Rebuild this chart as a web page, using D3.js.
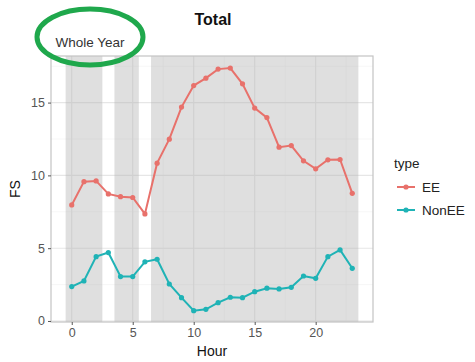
<!DOCTYPE html>
<html><head><meta charset="utf-8">
<script src="https://cdn.jsdelivr.net/npm/d3@7"></script>
<style>body{margin:0;background:#fff}svg{display:block;font-family:"Liberation Sans",Arial,sans-serif}</style>
</head><body><svg id="c" width="475" height="362"></svg>
<script>
const hours = d3.range(0,24);
const eeValues = [7.97,9.57,9.62,8.73,8.54,8.48,7.35,10.84,12.49,14.69,16.17,16.68,17.30,17.37,16.29,14.62,13.97,11.94,12.05,11.0,10.45,11.07,11.09,8.77];
const nonEEValues = [2.36,2.75,4.42,4.70,3.05,3.05,4.06,4.24,2.54,1.60,0.71,0.80,1.26,1.63,1.60,2.01,2.25,2.20,2.31,3.09,2.93,4.42,4.88,3.62];
const shadeStarts = [-0.5,3.5,6.5];
const shadeEnds = [2.5,5.5,23.5];
const xTicks = [0,5,10,15,20];
const yTicks = [0,5,10,15];
const seriesNames = ["EE","NonEE"];
const seriesColors = ["#e8716b","#1fb3b6"];

const svg = d3.select("#c");
const P = {l:51, r:373, t:56, b:322};
const x = d3.scaleLinear().domain([-1.7,24.7]).range([P.l,P.r]);
const y = d3.scaleLinear().domain([-0.07,18.2]).range([P.b,P.t]);

// grid
const g = svg.append("g");
const minorX = [-2.5,2.5,7.5,12.5,17.5,22.5].filter(v=>v>=-1.7&&v<=24.7);
const minorY = [2.5,7.5,12.5,17.5];
g.selectAll(".mx").data(minorX).join("line").attr("x1",d=>x(d)).attr("x2",d=>x(d)).attr("y1",P.t).attr("y2",P.b).attr("stroke","#f2f2f2").attr("stroke-width",0.6);
g.selectAll(".my").data(minorY).join("line").attr("y1",d=>y(d)).attr("y2",d=>y(d)).attr("x1",P.l).attr("x2",P.r).attr("stroke","#f2f2f2").attr("stroke-width",0.6);
g.selectAll(".gx").data(xTicks).join("line").attr("x1",d=>x(d)).attr("x2",d=>x(d)).attr("y1",P.t).attr("y2",P.b).attr("stroke","#e6e6e6").attr("stroke-width",1.1);
g.selectAll(".gy").data(yTicks).join("line").attr("y1",d=>y(d)).attr("y2",d=>y(d)).attr("x1",P.l).attr("x2",P.r).attr("stroke","#e6e6e6").attr("stroke-width",1.1);

// shading
svg.append("g").selectAll("rect").data(shadeStarts.map((s,i)=>[s,shadeEnds[i]])).join("rect")
  .attr("x",d=>x(d[0])).attr("width",d=>x(d[1])-x(d[0])).attr("y",P.t).attr("height",P.b-P.t)
  .attr("fill","#b0b0b0").attr("fill-opacity",0.4);

// panel border
svg.append("rect").attr("x",P.l).attr("y",P.t).attr("width",P.r-P.l).attr("height",P.b-P.t)
  .attr("fill","none").attr("stroke","#c4c4c4").attr("stroke-width",1.2);

// lines
const series = [eeValues, nonEEValues];
const line = d3.line().x((d,i)=>x(hours[i])).y(d=>y(d));
series.forEach((vals,k)=>{
  svg.append("path").attr("d",line(vals)).attr("fill","none").attr("stroke",seriesColors[k]).attr("stroke-width",2);
  svg.append("g").selectAll("circle").data(vals).join("circle").attr("cx",(d,i)=>x(hours[i])).attr("cy",d=>y(d)).attr("r",2.6).attr("fill",seriesColors[k]);
});

// axes
const xa = svg.append("g").attr("transform",`translate(0,${P.b})`).call(d3.axisBottom(x).tickValues(xTicks).tickSize(3).tickPadding(3));
const ya = svg.append("g").attr("transform",`translate(${P.l},0)`).call(d3.axisLeft(y).tickValues(yTicks).tickSize(3).tickPadding(3));
[xa,ya].forEach(a=>{a.select(".domain").remove();a.selectAll(".tick line").attr("stroke","#555");a.selectAll("text").attr("fill","#555").style("font-size","12.5px").style("font-family","Liberation Sans, Arial, sans-serif");});

svg.append("text").attr("x",(P.l+P.r)/2).attr("y",356).attr("text-anchor","middle").style("font-size","14px").attr("fill","#111").text("Hour");
svg.append("text").attr("transform",`translate(20,${(P.t+P.b)/2}) rotate(-90)`).attr("text-anchor","middle").style("font-size","14px").attr("fill","#111").text("FS");
svg.append("text").attr("x",213).attr("y",25).attr("text-anchor","middle").style("font-size","16px").style("font-weight","bold").attr("fill","#111").text("Total");

// legend
svg.append("text").attr("x",394).attr("y",168).style("font-size","13.5px").attr("fill","#222").text("type");
seriesNames.forEach((n,k)=>{
  const yy = 187 + k*23;
  svg.append("line").attr("x1",397).attr("x2",415).attr("y1",yy).attr("y2",yy).attr("stroke",seriesColors[k]).attr("stroke-width",2);
  svg.append("circle").attr("cx",406).attr("cy",yy).attr("r",2.6).attr("fill",seriesColors[k]);
  svg.append("text").attr("x",422).attr("y",yy+5).style("font-size","13.5px").attr("fill","#222").text(n);
});

// annotation
svg.append("text").attr("x",90).attr("y",47).attr("text-anchor","middle").style("font-size","13.5px").attr("fill","#333").text("Whole Year");
svg.append("ellipse").attr("cx",90).attr("cy",37).attr("rx",53).attr("ry",28).attr("fill","none").attr("stroke","#1fa84c").attr("stroke-width",5);
</script></body></html>
